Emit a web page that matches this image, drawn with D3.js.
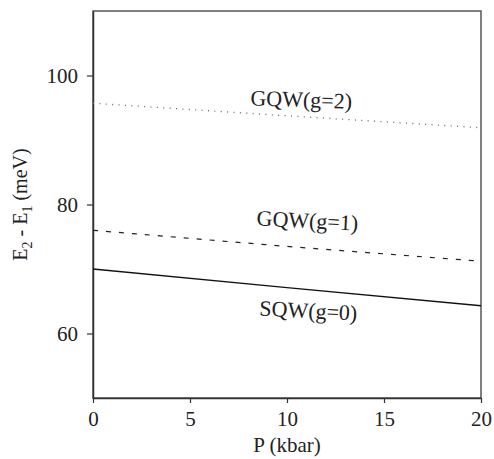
<!DOCTYPE html>
<html>
<head>
<meta charset="utf-8">
<script src="https://cdn.jsdelivr.net/npm/d3@7"></script>
<style>
  body { margin: 0; background: #fff; }
  svg text { font-family: "Liberation Serif", "Times New Roman", Times, serif !important; fill: #222; }
</style>
</head>
<body>
<svg id="chart"></svg>
<script>
// chart size
width = 494;
height = 459;

// data
const pressure = [0, 10, 20];            // kbar
const sqw  = [70.0, 67.1, 64.3];          // SQW(g=0)
const gqw1 = [76.0, 73.5, 71.2];          // GQW(g=1)
const gqw2 = [95.7, 93.75, 91.9];         // GQW(g=2)
const xTicks = [0, 5, 10, 15, 20];
const yTicks = [60, 80, 100];

const margin = {top: 11, right: 13, bottom: 61, left: 93};

const svg = d3.select("#chart")
  .attr("width", width)
  .attr("height", height);

const x = d3.scaleLinear().domain([0, 20]).range([margin.left, width - margin.right]);
const y = d3.scaleLinear().domain([50, 110]).range([height - margin.bottom, margin.top]);

// frame (top and right)
svg.append("rect")
  .attr("x", x(0)).attr("y", y(110))
  .attr("width", x(20) - x(0)).attr("height", y(50) - y(110))
  .attr("fill", "none")
  .attr("stroke", "#555")
  .attr("stroke-width", 1.5);

// axes
const xAxis = svg.append("g")
  .attr("transform", "translate(0," + y(50) + ")")
  .call(d3.axisBottom(x).tickValues(xTicks).tickSize(5).tickPadding(8).tickSizeOuter(0));
const yAxis = svg.append("g")
  .attr("transform", "translate(" + x(0) + ",0)")
  .call(d3.axisLeft(y).tickValues(yTicks).tickSize(6).tickPadding(9).tickSizeOuter(0));

[xAxis, yAxis].forEach((g) => {
  g.attr("font-family", null);
  g.select(".domain").attr("stroke", "#333").attr("stroke-width", 1.5);
  g.selectAll(".tick line").attr("stroke", "#333").attr("stroke-width", 1.2);
  g.selectAll(".tick text")
    .style("font-size", "21px")
    .attr("fill", "#222");
});

// lines
const line = d3.line()
  .x((d, i) => x(pressure[i]))
  .y((d) => y(d));

svg.append("path")
  .datum(sqw)
  .attr("d", line)
  .attr("fill", "none")
  .attr("stroke", "#111")
  .attr("stroke-width", 1.3);

svg.append("path")
  .datum(gqw1)
  .attr("d", line)
  .attr("fill", "none")
  .attr("stroke", "#222")
  .attr("stroke-width", 1.2)
  .attr("stroke-dasharray", "5,8");

svg.append("path")
  .datum(gqw2)
  .attr("d", line)
  .attr("fill", "none")
  .attr("stroke", "#666")
  .attr("stroke-width", 1.3)
  .attr("stroke-dasharray", "1,5.4");

// curve labels
function curveLabel(px, py, angle, name, g) {
  svg.append("text")
    .attr("transform", "translate(" + px + "," + py + ") rotate(" + angle + ")")
    .attr("text-anchor", "middle")
    .style("font-size", "22px")
    .text(name + "(g=" + g + ")");
}
curveLabel(301, 107, 2, "GQW", "2");
curveLabel(307, 228, 3, "GQW", "1");
curveLabel(308, 318, 3, "SQW", "0");

// axis titles
svg.append("text")
  .attr("x", (x(0) + x(20)) / 2)
  .attr("y", 452)
  .attr("text-anchor", "middle")
  .style("font-size", "21px")
  .text("P (kbar)");

const yl = svg.append("text")
  .attr("transform", "translate(27," + ((y(50) + y(110)) / 2) + ") rotate(-90)")
  .attr("text-anchor", "middle")
  .style("font-size", "20px");
yl.append("tspan").text("E");
yl.append("tspan").text("2").attr("dy", 5).style("font-size", "14px");
yl.append("tspan").text(" - E").attr("dy", -5);
yl.append("tspan").text("1").attr("dy", 5).style("font-size", "14px");
yl.append("tspan").text(" (meV)").attr("dy", -5);
</script>
</body>
</html>
